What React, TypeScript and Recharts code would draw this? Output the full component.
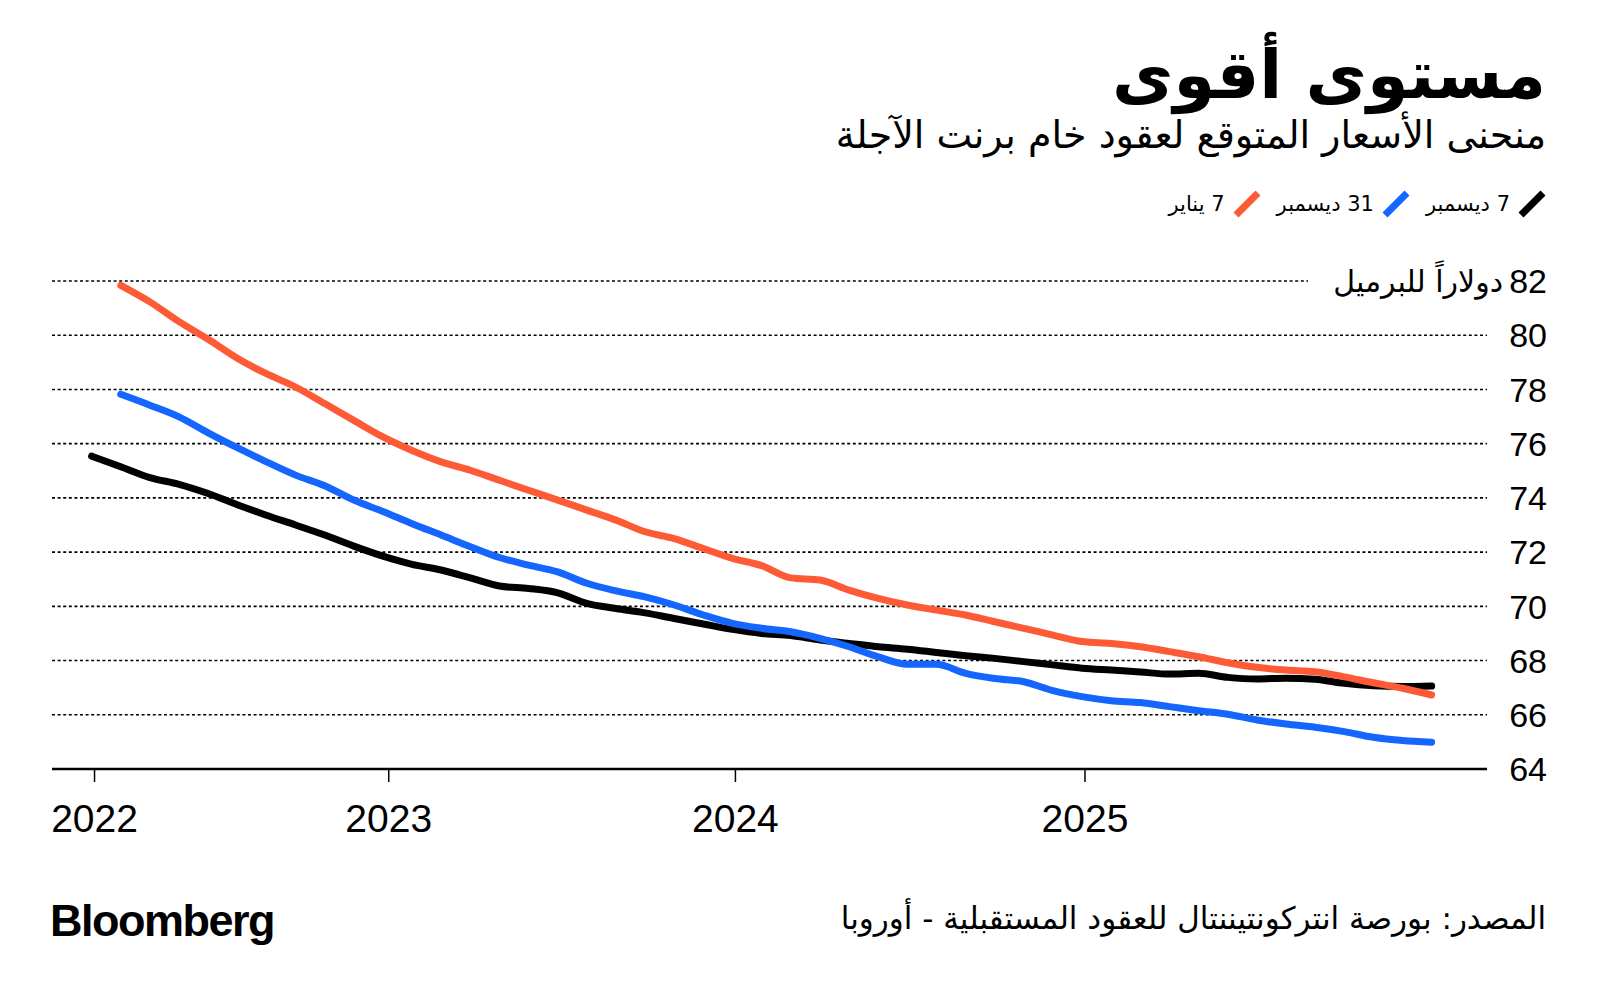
import React from 'react';
import { LineChart, Line, XAxis, YAxis, CartesianGrid } from 'recharts';

const title = 'مستوى أقوى';
const subtitle = 'منحنى الأسعار المتوقع لعقود خام برنت الآجلة';
const unitLabel = 'دولاراً للبرميل';
const sourceText = 'المصدر: بورصة انتركونتيننتال للعقود المستقبلية - أوروبا';

const seriesNames = ['7 ديسمبر', '31 ديسمبر', '7 يناير'];
const seriesColors = ['#000000', '#1466FF', '#FF5A36'];

const yTicks = [64, 66, 68, 70, 72, 74, 76, 78, 80, 82];
const yearTickPositions = [0.1, 10.2, 22.1, 34.1];
const yearLabels = ['2022', '2023', '2024', '2025'];

// 7 December curve (contract index 0..46)
const dec7 = [
  75.54, 75.15, 74.75, 74.5, 74.16, 73.75, 73.36, 73.0, 72.63, 72.22,
  71.85, 71.55, 71.34, 71.05, 70.75, 70.66, 70.5, 70.11, 69.92, 69.76,
  69.55, 69.35, 69.15, 69.0, 68.92, 68.76, 68.63, 68.51, 68.42, 68.3,
  68.18, 68.08, 67.96, 67.84, 67.72, 67.65, 67.58, 67.5, 67.53, 67.38,
  67.32, 67.35, 67.31, 67.16, 67.07, 67.04, 67.06,
];
// 31 December curve (contract index 1..46)
const dec31 = [
  77.82, 77.42, 76.99, 76.4, 75.85, 75.33, 74.84, 74.45, 73.92, 73.5,
  73.05, 72.63, 72.2, 71.8, 71.52, 71.27, 70.85, 70.57, 70.35, 70.05,
  69.68, 69.37, 69.19, 69.06, 68.82, 68.51, 68.14, 67.86, 67.86, 67.53,
  67.34, 67.22, 66.89, 66.67, 66.52, 66.45, 66.3, 66.15, 66.02, 65.81,
  65.66, 65.54, 65.38, 65.17, 65.05, 64.99,
];
// 7 January curve (contract index 1..46)
const jan7 = [
  81.84, 81.23, 80.5, 79.85, 79.15, 78.58, 78.09, 77.48, 76.86, 76.25,
  75.75, 75.33, 75.02, 74.65, 74.28, 73.92, 73.55, 73.18, 72.75, 72.5,
  72.13, 71.77, 71.5, 71.05, 70.97, 70.6, 70.29, 70.05, 69.86, 69.68,
  69.43, 69.19, 68.94, 68.7, 68.63, 68.51, 68.33, 68.14, 67.92, 67.75,
  67.65, 67.59, 67.4, 67.18, 66.98, 66.73,
];

const data = dec7.map((v, i) => ({
  i,
  a: v,
  b: i >= 1 ? dec31[i - 1] : null,
  c: i >= 1 ? jan7[i - 1] : null,
}));

const LATIN = "'Liberation Sans', Arial, sans-serif";
const ARABIC = "'DejaVu Sans', 'Liberation Sans', sans-serif";

const YTick = (props: any) => {
  const { x, y, payload } = props;
  const v = payload.value;
  return (
    <g>
      {v === 82 && <rect x={1308} y={y - 4} width={200} height={8} fill="#fff" />}
      <text x={x + 60} y={y} dy="0.36em" textAnchor="end" fontFamily={LATIN} fontSize={34} fill="#000">
        {v}
      </text>
      {v === 82 && (
        <text x={x + 16} y={y} dy="0.36em" textAnchor="end" fontFamily={ARABIC} fontSize={30} fill="#000">
          {unitLabel}
        </text>
      )}
    </g>
  );
};

const XTick = (props: any) => {
  const { x, y, payload } = props;
  const idx = yearTickPositions.indexOf(payload.value);
  return (
    <text x={x} y={y + 20} dy="0.71em" textAnchor="middle" fontFamily={LATIN} fontSize={39} fill="#000">
      {idx >= 0 ? yearLabels[idx] : ''}
    </text>
  );
};

const Swatch = ({ color }: { color: string }) => (
  <svg width={28} height={28} style={{ display: 'block' }}>
    <line x1={3} y1={25} x2={25} y2={3} stroke={color} strokeWidth={7} strokeLinecap="butt" />
  </svg>
);

export default function App() {
  return (
    <div style={{ position: 'absolute', left: 0, top: 0, width: 1600, height: 1001, background: '#fff', overflow: 'hidden' }}>
      <div
        style={{
          position: 'absolute', right: 54, top: 30, direction: 'rtl', fontFamily: ARABIC,
          fontWeight: 'bold', fontSize: 67, lineHeight: '90px', color: '#000', whiteSpace: 'nowrap',
        }}
      >
        {title}
      </div>
      <div
        style={{
          position: 'absolute', right: 54, top: 110, direction: 'rtl', fontFamily: ARABIC,
          fontSize: 38, lineHeight: '50px', color: '#000', whiteSpace: 'nowrap',
        }}
      >
        {subtitle}
      </div>
      <div
        style={{
          position: 'absolute', right: 54, top: 190, direction: 'rtl', display: 'flex',
          alignItems: 'center', gap: 16, fontFamily: ARABIC, fontSize: 21, color: '#000',
        }}
      >
        {seriesNames.map((n, k) => (
          <div key={n} style={{ display: 'flex', alignItems: 'center', gap: 8 }}>
            <Swatch color={seriesColors[k]} />
            <span style={{ whiteSpace: 'nowrap' }}>{n}</span>
          </div>
        ))}
      </div>

      <div style={{ position: 'absolute', left: 0, top: 0 }}>
        <LineChart width={1600} height={1001} data={data} margin={{ top: 281, right: 0, bottom: 0, left: 52 }}>
          <CartesianGrid horizontal vertical={false} stroke="#000" strokeWidth={1.6} strokeDasharray="3 2.6" />
          <XAxis
            dataKey="i"
            type="number"
            domain={[-1.36, 47.9]}
            ticks={yearTickPositions}
            allowDataOverflow
            height={232}
            axisLine={{ stroke: '#000', strokeWidth: 2.5 }}
            tickLine={{ stroke: '#000', strokeWidth: 1.5 }}
            tickSize={13}
            tick={<XTick />}
            interval={0}
          />
          <YAxis
            orientation="right"
            domain={[64, 82]}
            ticks={yTicks}
            width={113}
            axisLine={false}
            tickLine={false}
            tickSize={0}
            tickMargin={0}
            tick={<YTick />}
            interval={0}
          />
          <Line dataKey="a" stroke={seriesColors[0]} strokeWidth={7} dot={false} type="monotone" isAnimationActive={false} strokeLinecap="round" />
          <Line dataKey="b" stroke={seriesColors[1]} strokeWidth={7} dot={false} type="monotone" isAnimationActive={false} strokeLinecap="round" />
          <Line dataKey="c" stroke={seriesColors[2]} strokeWidth={7} dot={false} type="monotone" isAnimationActive={false} strokeLinecap="round" />
        </LineChart>
      </div>

      <div
        style={{
          position: 'absolute', left: 50, top: 896, fontFamily: LATIN, fontWeight: 'bold',
          fontSize: 45, lineHeight: '50px', letterSpacing: -1.5, color: '#000',
        }}
      >
        Bloomberg
      </div>
      <div
        style={{
          position: 'absolute', right: 54, top: 896, direction: 'rtl', fontFamily: ARABIC,
          fontSize: 31, lineHeight: '44px', color: '#000', whiteSpace: 'nowrap',
        }}
      >
        {sourceText}
      </div>
    </div>
  );
}
